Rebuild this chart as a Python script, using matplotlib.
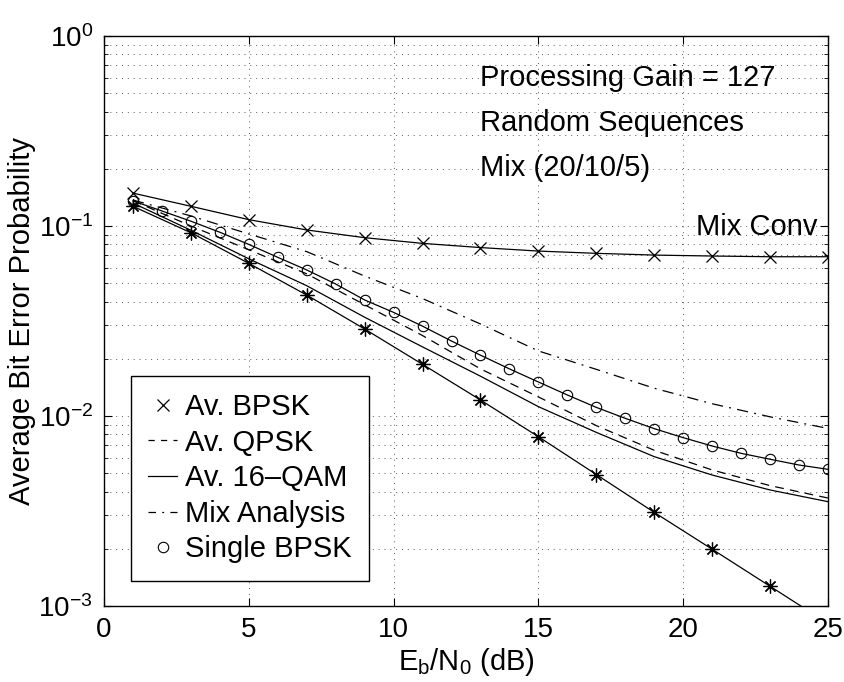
import matplotlib
matplotlib.use("Agg")
import matplotlib.pyplot as plt
from matplotlib.lines import Line2D
import numpy as np

plt.rcParams['font.family'] = ['Liberation Sans', 'DejaVu Sans']
plt.rcParams['mathtext.fontset'] = 'custom'
plt.rcParams['mathtext.rm'] = 'Liberation Sans'
plt.rcParams['mathtext.it'] = 'Liberation Sans'

# Eb/N0 (dB)
snr_odd = [1, 3, 5, 7, 9, 11, 13, 15, 17, 19, 21, 23, 25]
snr_all = list(range(1, 26))

mix_conv = [0.149, 0.127, 0.108, 0.0953, 0.0868, 0.081, 0.077, 0.0738,
            0.0718, 0.0703, 0.0695, 0.0689, 0.0689]
bpsk_theory = [0.127, 0.0922, 0.0636, 0.0433, 0.0287, 0.0187, 0.01214,
               0.00778, 0.00492, 0.00311, 0.00199, 0.00127, 0.00081]
qam16 = [0.132, 0.095, 0.0672, 0.0485, 0.0331, 0.0231, 0.0162, 0.0112,
         0.0082, 0.00611, 0.00489, 0.00408, 0.00354]
qpsk = [0.136, 0.100, 0.075, 0.056, 0.0385, 0.0265, 0.0177, 0.0126,
        0.0089, 0.0066, 0.0052, 0.0043, 0.0037]
mix_analysis = [0.137, 0.113, 0.0908, 0.0733, 0.0545, 0.0415, 0.0305,
                0.0220, 0.0176, 0.0140, 0.0116, 0.0099, 0.0086]
single_bpsk = [0.1355, 0.120, 0.106, 0.0927, 0.080, 0.0684, 0.0587, 0.0495,
               0.0408, 0.0351, 0.0297, 0.0248, 0.0209, 0.0177, 0.0151,
               0.0129, 0.0111, 0.00972, 0.00858, 0.00769, 0.00695, 0.00636,
               0.00592, 0.00552, 0.00524]

legend_labels = ['Av. BPSK', 'Av. QPSK', 'Av. 16\u2013QAM', 'Mix Analysis', 'Single BPSK']

fig = plt.figure(figsize=(8.45, 6.82), dpi=100)
ax = fig.add_axes([104/845, 1-606/682, 724/845, 570/682])

lw = 0.9
asterisk = (8, 2, 0)
ax.plot(snr_odd, mix_conv, color='k', lw=lw, marker='x', ms=8, mew=0.9)
ax.plot(snr_odd, bpsk_theory, color='k', lw=lw, marker=asterisk, ms=10, mew=0.9)
ax.plot(snr_odd, qpsk, color='k', lw=lw, dashes=(7, 5))
ax.plot(snr_odd, qam16, color='k', lw=lw)
ax.plot(snr_odd, mix_analysis, color='k', lw=lw, dashes=(9, 5, 1.5, 5))
ax.plot(snr_all, single_bpsk, color='k', lw=lw, marker='o', ms=7.5,
        mfc='none', mew=0.8)

ax.set_yscale('log')
ax.set_xlim(0, 25)
ax.set_ylim(1e-3, 1)
ax.set_xticks([0, 5, 10, 15, 20, 25])
ax.tick_params(which='both', direction='in', top=True, right=True,
               labelsize=20, pad=8)
ax.tick_params(which='major', length=6)
ax.tick_params(which='minor', length=3)
ax.grid(True, which='both', axis='y', color='0.35', ls=(0, (1, 5)), lw=0.7)
ax.grid(True, which='major', axis='x', color='0.35', ls=(0, (1, 5)), lw=0.7)
for s in ax.spines.values():
    s.set_linewidth(1.0)

ax.set_xlabel('E$_b$/N$_0$ (dB)', fontsize=21, labelpad=2)
ax.set_ylabel('Average Bit Error Probability', fontsize=21, labelpad=2)

ax.text(13.0, 0.60, 'Processing Gain = 127', fontsize=21, va='center')
ax.text(13.0, 0.348, 'Random Sequences', fontsize=21, va='center')
ax.text(13.0, 0.202, 'Mix (20/10/5)', fontsize=21, va='center')
ax.text(24.65, 0.0988, 'Mix Conv', fontsize=21, va='center', ha='right')

handles = [
    Line2D([], [], color='k', ls='none', marker='x', ms=8, mew=0.9),
    Line2D([], [], color='k', lw=lw, dashes=(5, 5)),
    Line2D([], [], color='k', lw=lw),
    Line2D([], [], color='k', lw=lw, dashes=(6, 5, 1.5, 5)),
    Line2D([], [], color='k', ls='none', marker='o', ms=7.5, mfc='none', mew=0.8),
]
leg = ax.legend(handles, legend_labels, loc='lower left', bbox_to_anchor=(0.037, 0.044),
                borderaxespad=0, fontsize=21, handlelength=1.0, handletextpad=0.25,
                labelspacing=0.26, borderpad=0.6, fancybox=False, framealpha=1)
leg.get_frame().set_edgecolor('k')
leg.get_frame().set_linewidth(1.0)

fig.savefig('out.png', dpi=100)
